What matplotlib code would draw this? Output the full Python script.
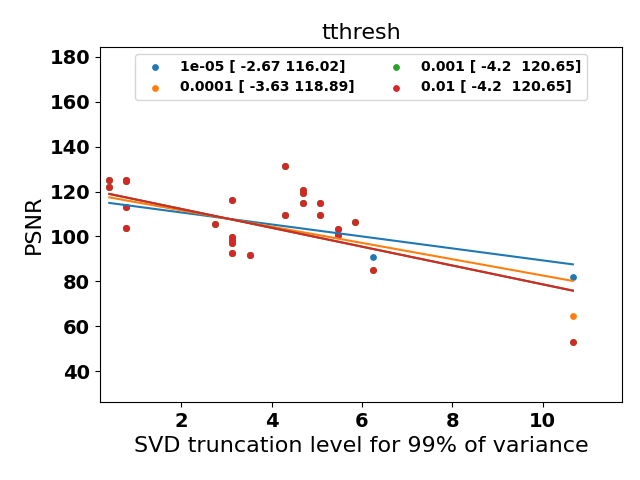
import numpy as np
import matplotlib
matplotlib.use("Agg")
import matplotlib.pyplot as plt

# svd truncation level per dataset (x) and PSNR per error bound (y)
svd_level = [0.41, 0.41, 0.78, 0.78, 0.78, 0.78, 2.74, 3.12, 3.12, 3.12, 3.12,
             3.12, 3.52, 4.30, 4.30, 4.70, 4.70, 4.70, 5.07, 5.07, 5.47, 5.47,
             5.85, 6.25, 10.67]

psnr_1e5 = [125.0, 121.9, 124.8, 125.2, 113.0, 103.6, 105.5, 116.1, 99.6, 98.4,
            97.2, 92.5, 91.6, 131.3, 109.4, 120.7, 119.5, 114.8, 114.8, 109.4,
            103.2, 100.8, 106.3, 90.7, 81.8]
psnr_1e4 = [125.0, 121.9, 124.8, 125.2, 113.0, 103.6, 105.5, 116.1, 99.6, 98.4,
            97.2, 92.5, 91.6, 131.3, 109.4, 120.7, 119.5, 114.8, 114.8, 109.4,
            103.2, 100.8, 106.3, 84.9, 64.4]
psnr_1e3 = [125.0, 121.9, 124.8, 125.2, 113.0, 103.6, 105.5, 116.1, 99.6, 98.4,
            97.2, 92.5, 91.6, 131.3, 109.4, 120.7, 119.5, 114.8, 114.8, 109.4,
            103.2, 100.8, 106.3, 84.9, 52.8]
psnr_1e2 = [125.0, 121.9, 124.8, 125.2, 113.0, 103.6, 105.5, 116.1, 99.6, 98.4,
            97.2, 92.5, 91.6, 131.3, 109.4, 120.7, 119.5, 114.8, 114.8, 109.4,
            103.2, 100.8, 106.3, 84.9, 52.8]

error_bounds = ["1e-05", "0.0001", "0.001", "0.01"]
# linear fit coefficients as printed in the legend
fit_slope = [-2.67, -3.63, -4.2, -4.2]
fit_intercept = [116.02, 118.89, 120.65, 120.65]
fit_text = ["[ -2.67 116.02]", "[ -3.63 118.89]", "[ -4.2  120.65]", "[ -4.2  120.65]"]

series = [psnr_1e5, psnr_1e4, psnr_1e3, psnr_1e2]

fig, ax = plt.subplots(figsize=(6.4, 4.8), dpi=100)
fig.subplots_adjust(left=0.156, right=0.972, top=0.902, bottom=0.1625)

x = np.array(svd_level)
for i, (eb, ys) in enumerate(zip(error_bounds, series)):
    color = "C%d" % i
    ax.scatter(x, ys, s=15, color=color, label=eb + " " + fit_text[i])
    xs = np.array([x.min(), x.max()])
    ax.plot(xs, fit_slope[i] * xs + fit_intercept[i], color=color)

ax.set_xlim(0.2, 11.76)
ax.set_ylim(26.2, 184.4)
ax.set_title("tthresh", fontsize=16)
ax.set_xlabel("SVD truncation level for 99% of variance", fontsize=16)
ax.set_ylabel("PSNR", fontsize=16)
for lab in ax.get_xticklabels() + ax.get_yticklabels():
    lab.set_fontweight("bold")
    lab.set_fontsize(14)
ax.legend(ncol=2, loc="upper center", prop={"weight": "bold", "size": 10})

fig.savefig("out.png", dpi=100)
